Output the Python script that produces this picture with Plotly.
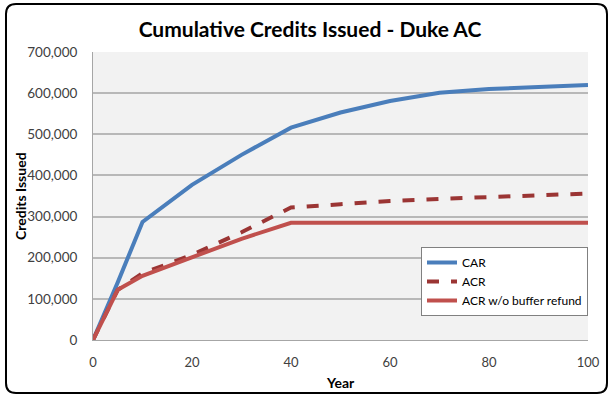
import plotly.graph_objects as go

years = [0, 5, 10, 20, 30, 40, 50, 60, 70, 80, 90, 100]
car = [0, 140000, 287000, 377000, 450000, 516000, 553000, 581000, 601000, 610000, 615000, 620000]
acr = [0, 122000, 162000, 207000, 262000, 322000, 330000, 338000, 343000, 348000, 352000, 356000]
acr_no_buffer = [0, 122000, 156000, 202000, 246000, 285000, 285000, 285000, 285000, 285000, 285000, 285000]

font_family = "Lato, 'Open Sans', sans-serif"

fig = go.Figure()
fig.add_trace(go.Scatter(x=years, y=car, mode="lines", name="CAR",
                         line=dict(color="#4a7ebb", width=4)))
fig.add_trace(go.Scatter(x=years, y=acr, mode="lines", name="ACR",
                         line=dict(color="#9b3534", width=4, dash="dash")))
fig.add_trace(go.Scatter(x=years, y=acr_no_buffer, mode="lines", name="ACR w/o buffer refund",
                         line=dict(color="#c0504d", width=4)))

W, H = 610, 395
ml, mr, mt, mb = 93, 22, 52, 55
pw, ph = W - ml - mr, H - mt - mb

# rounded chart border, defined in pixels and converted to paper coordinates
x0, x1, y0, y1, r = 6, 607, 4, 393, 10
path = (f"M {x0 + r} {y0} L {x1 - r} {y0} Q {x1} {y0} {x1} {y0 + r} "
        f"L {x1} {y1 - r} Q {x1} {y1} {x1 - r} {y1} L {x0 + r} {y1} "
        f"Q {x0} {y1} {x0} {y1 - r} L {x0} {y0 + r} Q {x0} {y0} {x0 + r} {y0} Z")


def px_to_paper(p):
    out = []
    toks = p.split()
    i = 0
    while i < len(toks):
        t = toks[i]
        if t.isalpha():
            out.append(t)
            i += 1
        else:
            xv = float(toks[i]); yv = float(toks[i + 1])
            out.append(f"{(xv - ml) / pw:.5f} {1 - (yv - mt) / ph:.5f}")
            i += 2
    return " ".join(out)


def px_x(xv):
    return (xv - ml) / pw


def px_y(yv):
    return 1 - (yv - mt) / ph


fig.add_shape(type="path", xref="paper", yref="paper", path=px_to_paper(path),
              line=dict(color="#000000", width=2), fillcolor="rgba(0,0,0,0)", layer="above")

# axis titles
fig.add_annotation(text="<b>Credits Issued</b>", xref="paper", yref="paper",
                   x=px_x(20), y=px_y(196), textangle=-90, showarrow=False,
                   xanchor="center", yanchor="middle",
                   font=dict(size=14, color="#000000", family=font_family))
fig.add_annotation(text="<b>Year</b>", xref="paper", yref="paper",
                   x=px_x(340), y=px_y(382), showarrow=False,
                   xanchor="center", yanchor="middle",
                   font=dict(size=14, color="#000000", family=font_family))

fig.update_layout(
    width=W, height=H,
    margin=dict(l=ml, r=mr, t=mt, b=mb),
    paper_bgcolor="white",
    plot_bgcolor="#f2f2f2",
    font=dict(family=font_family, size=13, color="#404040"),
    title=dict(text="<b>Cumulative Credits Issued - Duke AC</b>",
               x=310 / W, xref="container", xanchor="center",
               y=1 - 30 / H, yref="container", yanchor="middle",
               font=dict(size=21, color="#000000", family=font_family)),
    xaxis=dict(range=[0, 100], dtick=20, tick0=0, showgrid=False, zeroline=False,
               showline=True, linecolor="#a6a6a6", linewidth=1, ticks="",
               ticklabelstandoff=10, automargin=False,
               tickfont=dict(size=13, color="#404040")),
    yaxis=dict(range=[0, 700000], dtick=100000, tickformat=",d", showgrid=True,
               gridcolor="#b8b8b8", gridwidth=1.5, zeroline=False,
               showline=True, linecolor="#a6a6a6", linewidth=1, ticks="",
               ticklabelstandoff=12, automargin=False,
               tickfont=dict(size=13.5, color="#404040")),
    legend=dict(x=px_x(421), y=px_y(247), xanchor="left", yanchor="top",
                bgcolor="white", bordercolor="#808080", borderwidth=1,
                font=dict(size=12, color="#000000"), tracegroupgap=2,
                itemwidth=30),
    showlegend=True,
)

fig.write_html("out.html")
